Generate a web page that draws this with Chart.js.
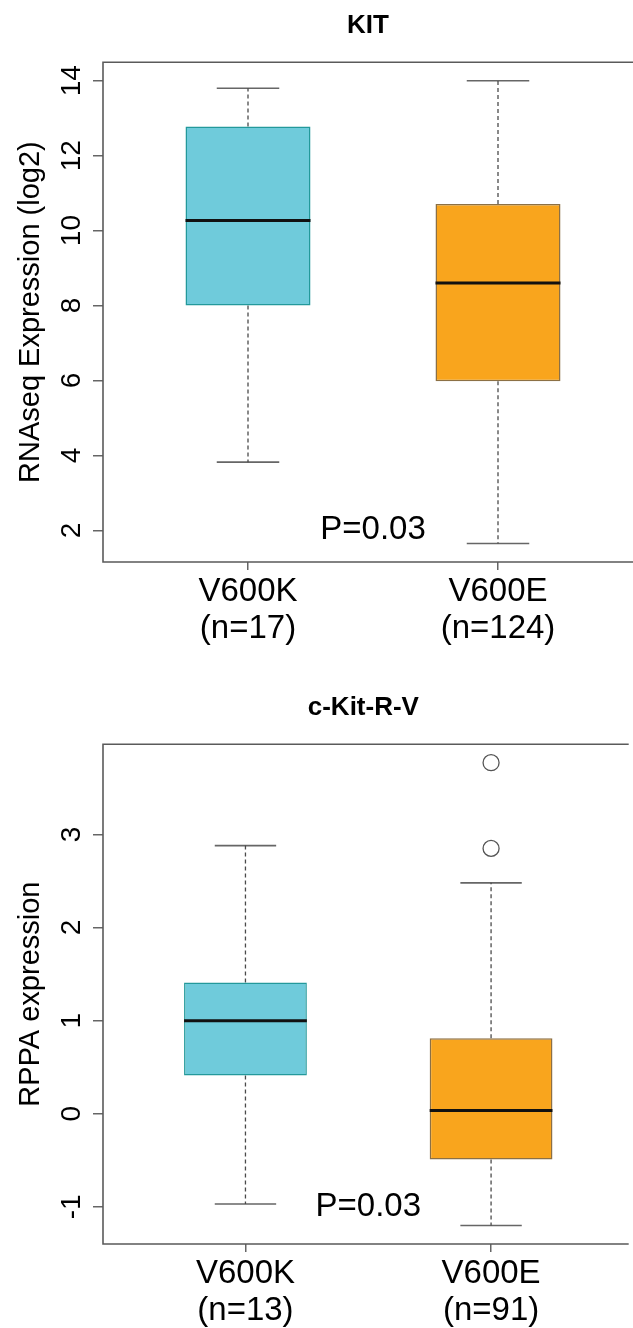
<!DOCTYPE html>
<html>
<head>
<meta charset="utf-8">
<title>KIT / c-Kit-R-V boxplots</title>
<script src="https://cdn.jsdelivr.net/npm/chart.js@4.4.0/dist/chart.umd.min.js"></script>
<style>
  html, body { margin: 0; padding: 0; background: #fff; }
  #wrap { position: relative; width: 633px; height: 1328px; overflow: hidden; }
  canvas { position: absolute; left: 0; }
</style>
</head>
<body>
<div id="wrap">
  <canvas id="kitChart" width="633" height="682" style="top:0;width:633px;height:682px"></canvas>
  <canvas id="rppaChart" width="633" height="646" style="top:682px;width:633px;height:646px"></canvas>
</div>
<script>
// groups on the x axis
const groups = ["V600K", "V600E"];
const groupPos = [1, 2];

// KIT, RNAseq
const kitCounts = [17, 124];
const kitMin = [3.82, 1.65];
const kitQ1 = [8.0, 5.98];
const kitMedian = [10.27, 8.6];
const kitQ3 = [12.78, 10.71];
const kitMax = [13.8, 14.0];
const kitOutliers = [[], []];
const kitTicks = [2, 4, 6, 8, 10, 12, 14];

// c-Kit-R-V, RPPA
const rppaCounts = [13, 91];
const rppaMin = [-0.97, -1.2];
const rppaQ1 = [0.41, -0.49];
const rppaMedian = [1.0, 0.035];
const rppaQ3 = [1.41, 0.81];
const rppaMax = [2.88, 2.48];
const rppaOutliers = [[], [2.85, 3.77]];
const rppaTicks = [-1, 0, 1, 2, 3];

const pText = "P=0.03";

const fillColors = ["#6fcbdb", "#f9a51d"];
const edgeColors = ["#23999b", "#8c7045"];
const FONT = "'Liberation Sans', Arial, Helvetica, sans-serif";

// draws the R style frame, rotated y labels and the p-value
const frameAndLabels = {
  id: "frameAndLabels",
  afterDraw(chart, args, opts) {
    const ctx = chart.ctx;
    const a = chart.chartArea;
    const xs = chart.scales.x;
    const ys = chart.scales.y;
    ctx.save();
    ctx.strokeStyle = "#5a5a5a";
    ctx.lineWidth = 1.6;
    ctx.beginPath();
    ctx.moveTo(a.right + 5, a.top);
    ctx.lineTo(a.left, a.top);
    ctx.lineTo(a.left, a.bottom);
    ctx.lineTo(a.right + 5, a.bottom);
    ctx.stroke();

    ctx.fillStyle = "#000";
    ctx.font = "28px " + FONT;
    ctx.textAlign = "center";
    ctx.textBaseline = "middle";
    ys.ticks.forEach(t => {
      ctx.save();
      ctx.translate(a.left - 31, ys.getPixelForValue(t.value));
      ctx.rotate(-Math.PI / 2);
      ctx.fillText(String(t.value), 0, 0);
      ctx.restore();
    });

    ctx.font = "33px " + FONT;
    ctx.fillText(opts.text, xs.getPixelForValue(opts.x), ys.getPixelForValue(opts.y));
    ctx.restore();
  }
};

// line segments with gaps between them
const segments = (pairs) => {
  const out = [];
  pairs.forEach(([x1, y1, x2, y2]) => {
    out.push({ x: x1, y: y1 }, { x: x2, y: y2 }, { x: x2, y: null });
  });
  return out;
};

const lineDs = (data, color, width, dash, order) => ({
  type: "line",
  data: data,
  borderColor: color,
  borderWidth: width,
  borderDash: dash,
  pointRadius: 0,
  fill: false,
  tension: 0,
  spanGaps: false,
  order: order,
});

const renderBoxChart = (id, s) => {
  const lo = Math.min(...s.min, ...s.outliers.flat());
  const hi = Math.max(...s.max, ...s.outliers.flat());
  const pad = (hi - lo) * 0.04;
  const canvas = document.getElementById(id);

  const whiskers = [];
  const caps = [];
  const medians = [];
  groupPos.forEach((p, i) => {
    whiskers.push([p, s.q3[i], p, s.max[i]], [p, s.q1[i], p, s.min[i]]);
    caps.push([p - 0.125, s.max[i], p + 0.125, s.max[i]], [p - 0.125, s.min[i], p + 0.125, s.min[i]]);
    medians.push([p - 0.25, s.median[i], p + 0.25, s.median[i]]);
  });
  const outlierPts = [];
  groupPos.forEach((p, i) => s.outliers[i].forEach(v => outlierPts.push({ x: p, y: v })));

  return new Chart(canvas.getContext("2d"), {
    type: "bar",
    data: {
      datasets: [
        {
          type: "bar",
          data: groupPos.map((p, i) => ({ x: p, y: [s.q1[i], s.q3[i]] })),
          backgroundColor: fillColors,
          borderColor: edgeColors,
          borderWidth: 1.5,
          borderSkipped: false,
          barPercentage: 0.5,
          categoryPercentage: 1,
          order: 3,
        },
        lineDs(segments(whiskers), "#4a4a4a", 1.3, [4, 3], 4),
        lineDs(segments(caps), "#666", 1.6, [], 4),
        lineDs(segments(medians), "#111", 3, [], 0),
        {
          type: "scatter",
          data: outlierPts,
          pointRadius: 8,
          pointStyle: "circle",
          backgroundColor: "rgba(0,0,0,0)",
          borderColor: "#555",
          borderWidth: 1.3,
          order: 1,
        },
      ],
    },
    options: {
      responsive: false,
      animation: false,
      events: [],
      layout: { padding: 0 },
      plugins: {
        legend: { display: false },
        tooltip: { enabled: false },
        title: {
          display: true,
          text: s.title,
          fullSize: false,
          color: "#000",
          font: { family: FONT, size: 26, weight: "bold" },
          padding: { top: 10, bottom: 21 },
        },
        frameAndLabels: { text: pText, x: 1.5, y: s.pY },
      },
      scales: {
        x: {
          type: "linear",
          min: 0.42,
          max: 2.54,
          offset: false,
          grid: { display: true, offset: false, drawOnChartArea: false, drawTicks: true, tickLength: 8, color: "#666", lineWidth: 1.5 },
          border: { display: false },
          afterBuildTicks: (scale) => { scale.ticks = groupPos.map(v => ({ value: v })); },
          afterFit: (scale) => { scale.height = canvas.height - 562; },
          ticks: {
            autoSkip: false,
            maxRotation: 0,
            padding: 4,
            color: "#000",
            font: { family: FONT, size: 33, lineHeight: 1.1 },
            callback: (v) => {
              const i = groupPos.indexOf(v);
              return i < 0 ? "" : [groups[i], "(n=" + s.counts[i] + ")"];
            },
          },
        },
        y: {
          type: "linear",
          min: lo - pad,
          max: hi + pad,
          beginAtZero: false,
          grid: { display: true, drawOnChartArea: false, drawTicks: true, tickLength: 10, color: "#666", lineWidth: 1.5 },
          border: { display: false },
          afterBuildTicks: (scale) => { scale.ticks = s.ticks.map(v => ({ value: v })); },
          afterFit: (scale) => { scale.width = 103; },
          ticks: { display: false },
          title: {
            display: true,
            text: s.yTitle,
            color: "#000",
            font: { family: FONT, size: 29 },
            padding: { top: 14, bottom: 0 },
          },
        },
      },
    },
    plugins: [frameAndLabels],
  });
};

renderBoxChart("kitChart", {
  title: "KIT",
  yTitle: "RNAseq Expression (log2)",
  counts: kitCounts, min: kitMin, q1: kitQ1, median: kitMedian, q3: kitQ3, max: kitMax,
  outliers: kitOutliers, ticks: kitTicks, pY: 2,
});

renderBoxChart("rppaChart", {
  title: "c-Kit-R-V",
  yTitle: "RPPA expression",
  counts: rppaCounts, min: rppaMin, q1: rppaQ1, median: rppaMedian, q3: rppaQ3, max: rppaMax,
  outliers: rppaOutliers, ticks: rppaTicks, pY: -1,
});
</script>
</body>
</html>
